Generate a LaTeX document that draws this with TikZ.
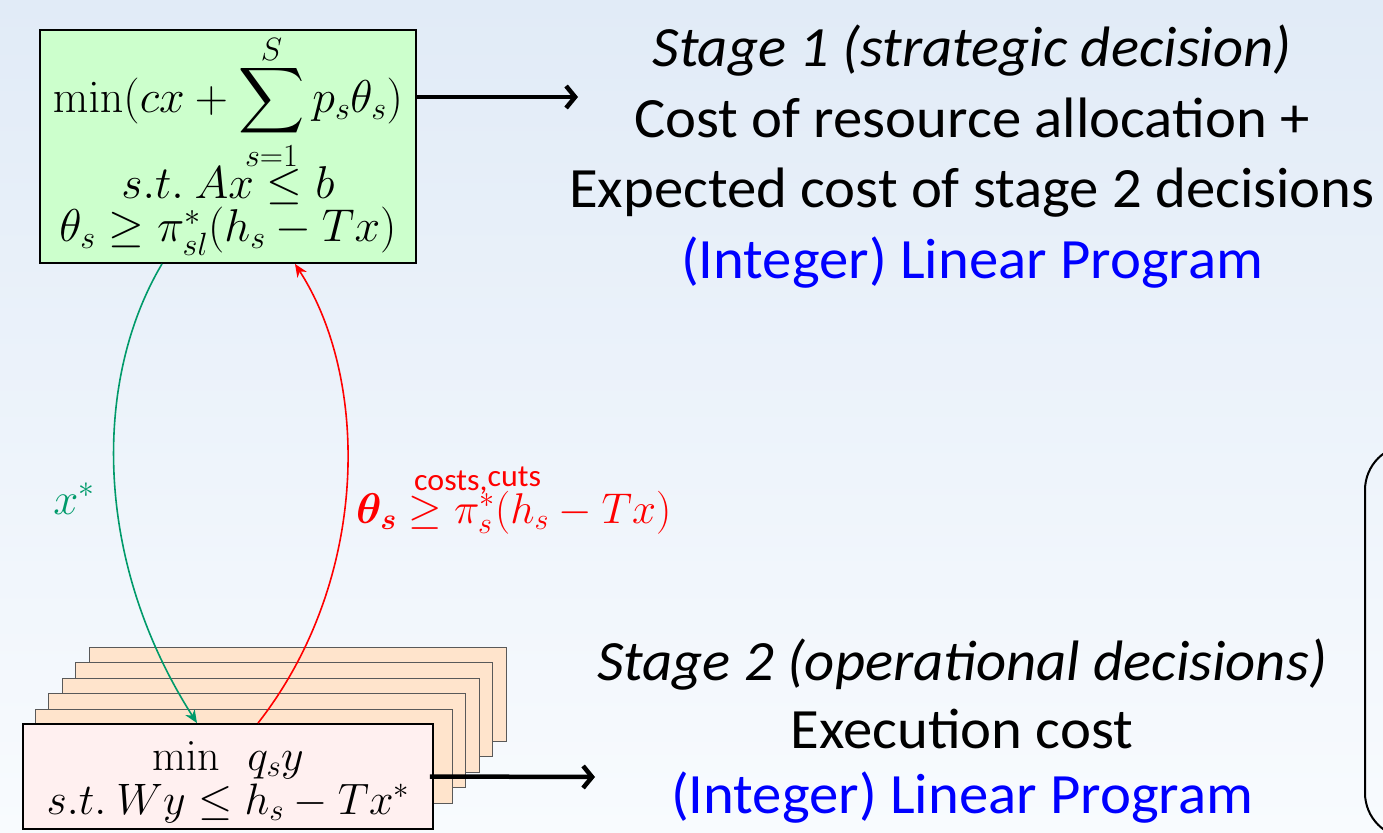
\RequirePackage{fix-cm}
\documentclass[tikz,border=0pt]{standalone}
\usepackage{amsmath}
\DeclareFontShape{OMX}{cmex}{m}{n}{<-> cmex10}{}
\usepackage[no-math]{fontspec}
\setmainfont{Carlito}[FakeStretch=1.03]
\usetikzlibrary{arrows.meta}
\definecolor{bgtop}{HTML}{E1EBF7}
\definecolor{bgbot}{HTML}{F8FBFE}
\definecolor{mastergreen}{HTML}{CCFFCC}
\definecolor{subpink}{HTML}{FFF0F0}
\definecolor{layerpeach}{HTML}{FFE4CC}
\definecolor{xgreen}{HTML}{009A6A}
\definecolor{lpblue}{HTML}{0000FF}
% tighter limits round the big sum
\newcommand{\tightlimits}{\fontdimen9\textfont3=4pt \fontdimen11\textfont3=4pt \fontdimen13\textfont3=0pt }
\tikzset{
  masterbox/.style={draw=black, line width=1.8pt, fill=mastergreen, inner sep=0pt,
    minimum width=376pt, minimum height=233pt, align=center,
    font=\fontsize{46}{43}\selectfont},
  subbox/.style={draw=black, line width=1.8pt, fill=subpink, inner sep=0pt,
    minimum width=410pt, minimum height=105pt, align=center,
    font=\fontsize{44}{44}\selectfont},
  layerbox/.style={draw=black!65, line width=1pt, fill=layerpeach},
  bigarrow/.style={line width=4.5pt, -{Straight Barb[length=9pt,width=22pt]}},
  flow/.style={line width=1.6pt, -{Stealth[length=13pt,width=11pt,inset=4pt]}},
  stagetxt/.style={anchor=base, inner sep=0pt, font=\fontsize{57}{60}\selectfont},
}
\begin{document}
\begin{tikzpicture}[x=1pt,y=-1pt]
  \useasboundingbox (0,0) rectangle (1383,832);
  \shade[top color=bgtop, bottom color=bgbot] (0,0) rectangle (1383,832);
  \begin{scope}
    \clip (0,0) rectangle (1383,832);
    \draw[line width=2pt, rounded corners=45pt] (1365,445) rectangle (1500,838);
  \end{scope}

  % scenario subproblems
  \foreach \i in {0,...,4}
    \draw[layerbox] (89-13.5*\i,647+15.5*\i) rectangle ++(417,94);
  \node[subbox] (sub) at (228,776.5)
    {\rule{0pt}{40pt}$\min\ \ q_s y$\\ $s.t.\ Wy \le h_s - Tx^*$};

  % master problem
  \node[masterbox] (master) at (228,146.5)
    {$\displaystyle \tightlimits \min(cx + \sum_{s=1}^{\raisebox{-14pt}[12pt][0pt]{$\scriptstyle S$}} p_s\theta_s)$\\
     $s.t.\ Ax \le b$\\
     $\theta_s \ge \pi^*_{sl}(h_s - Tx)$};

  % x* down, cuts up
  \draw[flow, xgreen] ([xshift=-66pt]master.south) .. controls (93,380) and (93,560) .. ([xshift=-31pt]sub.north);
  \draw[flow, red] ([xshift=30pt]sub.north) .. controls (370,580) and (370,380) .. ([xshift=67pt]master.south);
  \node[xgreen, anchor=base, inner sep=0pt, font=\fontsize{45}{45}\selectfont] (xstar) at (74,514) {$x^*$};
  \node[red, anchor=base west, inner sep=0pt, font=\fontsize{43}{43}\selectfont] (cut) at (356,523)
    {$\boldsymbol{\theta_s} \ge \pi^*_s(h_s - Tx)$};
  \node[red, anchor=base west, inner sep=0pt, font=\fontsize{31}{31}\selectfont] (cutnote) at (414,490)
    {costs,\raisebox{4pt}{cuts}};

  % stage 1
  \coordinate (s1end) at (578,97);
  \draw[bigarrow] ([yshift=49.5pt]master.east) -- (s1end);
  \node[stagetxt] (s1title) at (972,67) {\itshape Stage 1 (strategic decision)};
  \node[stagetxt] (s1cost) at (972,137) {Cost of resource allocation +};
  \node[stagetxt] (s1exp) at (972,207) {Expected cost of stage 2 decisions};
  \node[stagetxt, lpblue] (s1lp) at (972,278) {(Integer) Linear Program};

  % stage 2
  \coordinate (s2end) at (595,777);
  \draw[bigarrow] ([xshift=-4pt]sub.east) -- (s2end);
  \node[stagetxt] (s2title) at (962,680) {\itshape Stage 2 (operational decisions)};
  \node[stagetxt] (s2cost) at (962,748) {Execution cost};
  \node[stagetxt, lpblue] (s2lp) at (962,813) {(Integer) Linear Program};
\end{tikzpicture}
\end{document}
